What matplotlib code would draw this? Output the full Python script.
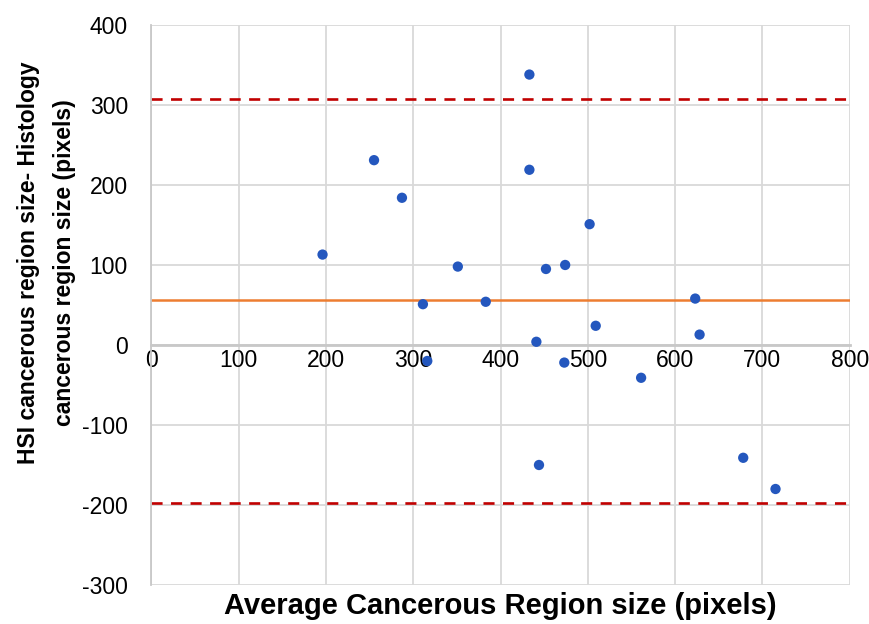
import matplotlib
matplotlib.use("Agg")
import matplotlib.pyplot as plt

avg_size = [196, 255, 287, 311, 316, 351, 383, 433, 433, 441, 444, 452, 474, 473,
            502, 509, 561, 623, 628, 678, 715]
diff_size = [113, 231, 184, 51, -20, 98, 54, 338, 219, 4, -150, 95, 100, -22,
             151, 24, -41, 58, 13, -141, -180]
mean_diff = 56
upper_loa = 308
lower_loa = -197
x_ticks = [0, 100, 200, 300, 400, 500, 600, 700, 800]
y_ticks = [-300, -200, -100, 0, 100, 200, 300, 400]

plt.rcParams['font.family'] = ['Liberation Sans', 'DejaVu Sans']
plt.rcParams['axes.unicode_minus'] = False

fig = plt.figure(figsize=(8.69, 6.24), dpi=100)
ax = fig.add_axes([0.1743, 0.0625, 0.8035, 0.8975])

ax.set_xlim(0, 800)
ax.set_ylim(-300, 400)
ax.set_xticks(x_ticks)
ax.set_yticks(y_ticks)
ax.grid(True, color='#D9D9D9', linewidth=1.3, zorder=0)
ax.set_axisbelow(True)

for s in ['top', 'right']:
    ax.spines[s].set_visible(False)
ax.spines['left'].set_color('#C8C8C8')
ax.spines['left'].set_linewidth(1.3)
ax.spines['bottom'].set_position(('data', 0))
ax.spines['bottom'].set_color('#C8C8C8')
ax.spines['bottom'].set_linewidth(2.0)
ax.tick_params(axis='both', length=0, labelsize=16.5, colors='black')
ax.tick_params(axis='x', pad=3)
ax.tick_params(axis='y', pad=17)

ax.axhline(mean_diff, color='#ED7D31', linewidth=1.8, zorder=2)
ax.axhline(upper_loa, color='#C00000', linewidth=1.9, linestyle=(0, (4.2, 3.2)), zorder=2)
ax.axhline(lower_loa, color='#C00000', linewidth=1.9, linestyle=(0, (4.2, 3.2)), zorder=2)

ax.scatter(avg_size, diff_size, s=55, color='#2457BE', edgecolors='none', zorder=3)

ax.set_xlabel('Average Cancerous Region size (pixels)', fontsize=21, fontweight='bold',
              va='top')
ax.xaxis.set_label_coords(0.5, -0.013)
ax.set_ylabel('HSI cancerous region size- Histology\ncancerous region size (pixels)',
              fontsize=16.5, fontweight='bold', linespacing=1.75)
ax.yaxis.set_label_coords(-0.108, 0.576)

fig.savefig('out.png', dpi=100)
